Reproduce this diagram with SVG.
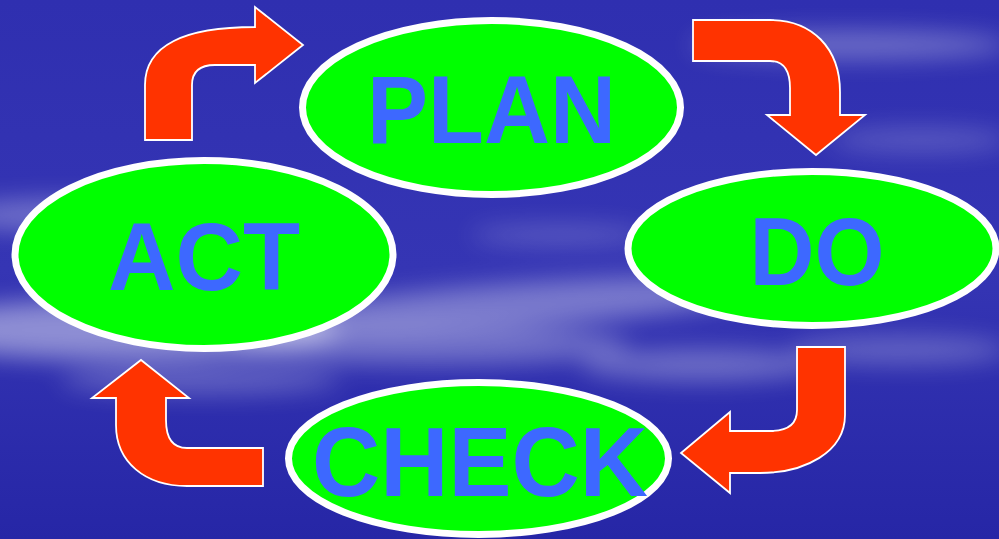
<svg xmlns="http://www.w3.org/2000/svg" width="999" height="539" viewBox="0 0 999 539">
  <defs>
    <linearGradient id="bg" x1="0" y1="0" x2="0" y2="1">
      <stop offset="0" stop-color="#2F2FB0"/>
      <stop offset="0.5" stop-color="#3535B4"/>
      <stop offset="1" stop-color="#2626A6"/>
    </linearGradient>
    <filter id="blur" x="-50%" y="-50%" width="200%" height="200%">
      <feGaussianBlur stdDeviation="12"/>
    </filter>
    <filter id="blur2" x="-50%" y="-50%" width="200%" height="200%">
      <feGaussianBlur stdDeviation="6"/>
    </filter>
    <style>
      .node ellipse { fill: #00FF00; stroke: #FFFFFF; stroke-width: 7; }
      .node text { font-family: "Liberation Sans", Arial, sans-serif; font-weight: bold; fill: #3D68FF; text-anchor: middle; }
      .arrow { fill: #FF3300; stroke: #FFFFFF; stroke-width: 1.8; stroke-linejoin: miter; }
      .cloud { fill: #FFFFFF; }
    </style>
  </defs>

  <!-- background -->
  <rect x="0" y="0" width="999" height="539" fill="url(#bg)"/>
  <g id="clouds" filter="url(#blur)">
    <ellipse class="cloud" cx="120" cy="330" rx="220" ry="30" opacity="0.45"/>
    <ellipse class="cloud" cx="520" cy="305" rx="260" ry="22" opacity="0.35" transform="rotate(-4 520 305)"/>
    <ellipse class="cloud" cx="430" cy="345" rx="200" ry="20" opacity="0.3"/>
    <ellipse class="cloud" cx="60" cy="215" rx="110" ry="16" opacity="0.3"/>
    <ellipse class="cloud" cx="850" cy="45" rx="160" ry="14" opacity="0.3"/>
    <ellipse class="cloud" cx="920" cy="140" rx="90" ry="12" opacity="0.2"/>
    <ellipse class="cloud" cx="700" cy="365" rx="120" ry="16" opacity="0.3"/>
    <ellipse class="cloud" cx="900" cy="350" rx="110" ry="14" opacity="0.25"/>
    <ellipse class="cloud" cx="200" cy="380" rx="140" ry="14" opacity="0.25"/>
    <ellipse class="cloud" cx="560" cy="235" rx="90" ry="10" opacity="0.2"/>
  </g>

  <!-- connectors -->
  <g id="connectors">
    <path id="act-plan" class="arrow" d="M145,140 L145,85 C145,45 185,27 255,27 L255,7 L303,45 L255,83 L255,65 L215,65 C200,65 192,72 192,85 L192,140 Z"/>
    <path id="plan-do" class="arrow" d="M693,20 L770,20 C812,20 840,48 840,92 L840,115 L865,115 L816,155 L767,115 L790,115 L790,88 C790,70 783,61 770,61 L693,61 Z"/>
    <path id="do-check" class="arrow" d="M797,347 L845,347 L845,415 C845,452 805,473 760,473 L730,473 L730,493 L681,453 L730,412 L730,431 L770,431 C788,431 797,424 797,410 Z"/>
    <path id="check-act" class="arrow" d="M263,448 L187,448 C173,448 166,438 166,420 L166,398 L189,398 L141,360 L92,398 L116,398 L116,425 C116,462 145,486 187,486 L263,486 Z"/>
  </g>

  <g id="plan" class="node">
    <ellipse cx="491.5" cy="107.5" rx="189" ry="87"/>
    <text x="491.5" y="143" font-size="97" textLength="249" lengthAdjust="spacingAndGlyphs">PLAN</text>
  </g>
  <g id="do" class="node">
    <ellipse cx="812" cy="248.5" rx="184" ry="77"/>
    <text x="817" y="285" font-size="97" textLength="135" lengthAdjust="spacingAndGlyphs">DO</text>
  </g>
  <g id="check" class="node">
    <ellipse cx="478.5" cy="458.5" rx="190" ry="76"/>
    <text x="480" y="496" font-size="99" textLength="336" lengthAdjust="spacingAndGlyphs">CHECK</text>
  </g>
  <g id="act" class="node">
    <ellipse cx="204" cy="254.5" rx="189" ry="94"/>
    <text x="204" y="290" font-size="96" textLength="192" lengthAdjust="spacingAndGlyphs">ACT</text>
  </g>
</svg>
